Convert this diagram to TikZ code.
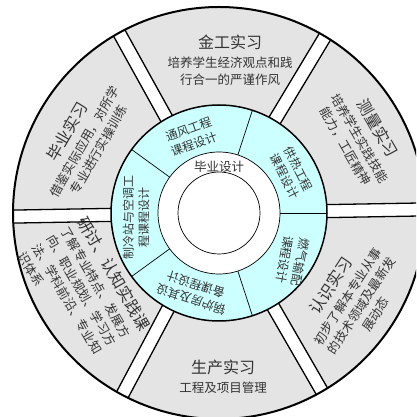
\documentclass[tikz,border=0pt]{standalone}
\usepackage{fontspec}
\newfontfamily\cjk{Noto Sans CJK SC}
\definecolor{ringgray}{HTML}{E4E4E4}
\definecolor{ringcyan}{HTML}{CCFFFF}
\definecolor{txtc}{HTML}{333333}
\begin{document}
\begin{tikzpicture}[x=1pt,y=1pt,
  body/.style={align=center, inner sep=0pt, text=txtc, font=\cjk\fontsize{12.5}{16.5}\selectfont},
  inner/.style={align=center, inner sep=0pt, text=txtc, font=\cjk\fontsize{12}{15.5}\selectfont},
  ttl/.style={font=\cjk\fontsize{15.5}{16}\selectfont},
  bar/.style={line width=1.3pt},
  thin/.style={line width=0.7pt}]
\useasboundingbox (0,0) rectangle (416,417);
\clip (0,0) rectangle (416,417);
\coordinate (O) at (219,204);
% outer gray ring
\fill[ringgray] (O) circle (206);
\begin{scope}
  \clip (O) circle (206);
  \foreach \a in {1,59,119,181,242,300}{
    \begin{scope}[shift={(O)}, rotate=\a]
      \fill[white] (100,-6.5) rectangle (215,6.5);
      \draw[bar] (100,-6.5) -- (215,-6.5);
      \draw[bar] (100,6.5) -- (215,6.5);
    \end{scope}
  }
\end{scope}
% cyan ring
\fill[ringcyan] (O) circle (108);
\foreach \a in {0,72,144,216,288}{
  \draw[thin] ([shift={(\a:61)}]O) -- ([shift={(\a:108)}]O);
}
\draw[line width=1.5pt] (O) circle (108);
\fill[white] (O) circle (61);
\draw[thin] (O) circle (61);
\draw[thin] (O) circle (41);
\draw[line width=2pt] (O) circle (206);
% center
\node[body] (center) at ([shift={(0,46)}]O) {毕业设计};
% inner ring texts
\node[inner, rotate=20] (tf) at ([shift={(110:81)}]O) {通风工程\\课程设计};
\node[inner, rotate=-63] (gr) at ([shift={(29:83)}]O) {供热工程\\课程设计};
\node[inner, rotate=-100] (rq) at ([shift={(-33:88)}]O) {燃气输配\\课程设计};
\node[inner, rotate=162] (gl) at ([shift={(-108:83)}]O) {锅炉房及其设\\备课程设计};
\node[inner, rotate=90] (zl) at ([shift={(183:83)}]O) {制冷站与空调工\\程课程设计};
% outer ring texts
\node[body] (jg) at (230,357) {{\fontsize{16}{16}\selectfont 金工实习}\\[2.5pt]培养学生经济观点和践\\行合一的严谨作风};
\node[body] (sc) at (223,40) {{\fontsize{16}{16}\selectfont 生产实习}\\[2.5pt]工程及项目管理};
\node[body, rotate=-60] (cl) at ([shift={(28:162)}]O) {{\fontsize{16}{16}\selectfont 测量实习}\\[2.5pt]培养学生实践技能\\能力，工匠精神};
\node[body, rotate=57] (rs) at ([shift={(-33:159)}]O) {{\fontsize{16}{16}\selectfont 认识实习}\\[2.5pt]初步了解本专业从事\\的技术领域及最新发\\展动态};
\node[body, align=left, rotate=-60] (yt) at ([shift={(210:155)}]O) {{\fontsize{16}{16}\selectfont 研讨、认知实践课}\\[2.5pt]了解专业特点、发展方\\向、职业规划、学习方\\法、学科前沿、专业知\\识体系};
\node[body, rotate=60] (by) at ([shift={(152:155)}]O) {{\fontsize{16}{16}\selectfont 毕业实习}\\[2.5pt]借鉴实际应用，对所学\\专业进行实操训练};
\end{tikzpicture}
\end{document}
